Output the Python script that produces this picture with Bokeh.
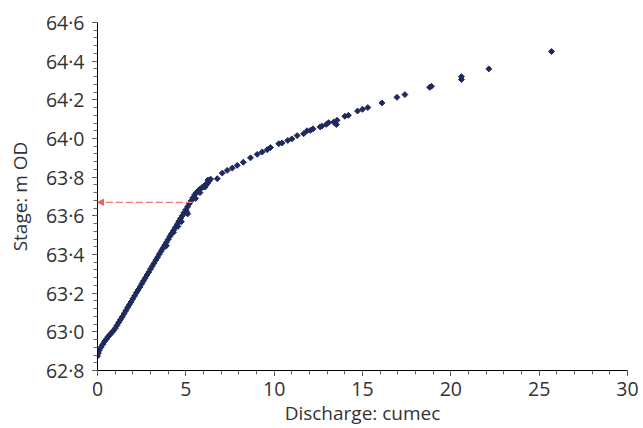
from bokeh.plotting import figure
from bokeh.models import Range1d, FixedTicker, CustomJSTickFormatter, Arrow, NormalHead, ColumnDataSource
from bokeh.embed import file_html
from bokeh.resources import INLINE

# Discharge (cumec) and stage (m OD)
discharge = [
    0.00, 0.05, 0.10, 0.20, 0.30, 0.40, 0.50, 0.60, 0.70, 0.80, 0.90, 1.00, 1.10, 1.20,
    1.30, 1.40, 1.50, 1.60, 1.70, 1.80, 1.90, 2.00, 2.10, 2.20, 2.30, 2.40, 2.50, 2.60,
    2.70, 2.80, 2.90, 3.00, 3.10, 3.20, 3.30, 3.40, 3.50, 3.60, 3.70, 3.80, 3.90, 4.00,
    4.10, 4.20, 4.30, 4.40, 4.50, 4.60, 4.70, 4.80, 4.90, 5.00, 5.10, 5.20, 5.30, 5.40,
    5.50, 5.60, 5.70, 5.80, 5.90, 6.00, 6.10, 6.20, 6.30,
    3.80, 3.90, 4.30, 4.55, 4.75, 5.05, 5.10, 5.55, 5.80, 6.10, 6.25,
    6.02, 6.21, 6.40, 6.78, 7.06, 7.34, 7.63, 7.91, 8.25, 8.66, 9.04, 9.32, 9.60, 9.79,
    10.26, 10.45, 10.77, 11.00, 11.30, 11.67, 11.86, 12.05, 12.20, 12.60, 12.70, 12.95,
    13.08, 13.37, 13.52, 13.56, 14.00, 14.20, 14.72, 15.00, 15.30, 16.10, 16.95, 17.40,
    18.80, 18.90, 20.60, 20.60, 22.15, 25.70,
]
stage = [
    62.875, 62.890, 62.905, 62.920, 62.935, 62.950, 62.962, 62.975, 62.985, 62.995, 63.005, 63.018, 63.033, 63.048,
    63.063, 63.078, 63.094, 63.109, 63.125, 63.140, 63.155, 63.171, 63.186, 63.202, 63.217, 63.232, 63.248, 63.263,
    63.278, 63.294, 63.309, 63.325, 63.340, 63.355, 63.371, 63.386, 63.402, 63.417, 63.432, 63.448, 63.463, 63.478,
    63.494, 63.509, 63.524, 63.540, 63.555, 63.571, 63.586, 63.601, 63.617, 63.632, 63.647, 63.663, 63.678, 63.694,
    63.709, 63.720, 63.730, 63.738, 63.745, 63.752, 63.760, 63.767, 63.778,
    63.440, 63.445, 63.515, 63.545, 63.570, 63.620, 63.610, 63.690, 63.720, 63.750, 63.785,
    63.749, 63.766, 63.790, 63.792, 63.821, 63.835, 63.847, 63.861, 63.877, 63.900, 63.918, 63.930, 63.942, 63.953,
    63.973, 63.977, 63.990, 63.998, 64.015, 64.025, 64.040, 64.042, 64.050, 64.060, 64.064, 64.073,
    64.082, 64.085, 64.072, 64.094, 64.115, 64.120, 64.142, 64.151, 64.160, 64.184, 64.213, 64.227,
    64.265, 64.270, 64.305, 64.320, 64.360, 64.450,
]

# Axis ticks
x_ticks = [0, 5, 10, 15, 20, 25, 30]
y_ticks = [62.8, 63.0, 63.2, 63.4, 63.6, 63.8, 64.0, 64.2, 64.4, 64.6]
x_minor = list(range(0, 31))
y_minor = [round(62.8 + 0.04 * i, 2) for i in range(46)]

# Reading marked by the red arrow
arrow_discharge = 5.4
arrow_stage = 63.67

x_min, x_max = 0, 30
y_min, y_max = 62.8, 64.6

FONT = "Open Sans"
TXT = "#333333"
MARK = "#1f2a5c"

p = figure(width=643, height=428, output_backend="svg", toolbar_location=None,
           x_range=Range1d(x_min, x_max), y_range=Range1d(y_min, y_max),
           min_border_left=97, min_border_right=16, min_border_top=22, min_border_bottom=58)
p.outline_line_color = None
p.grid.visible = False
p.background_fill_color = "white"
p.border_fill_color = "white"

src = ColumnDataSource(dict(x=discharge, y=stage))
p.scatter("x", "y", source=src, marker="square", angle=0.785398, size=4.2, color=MARK)

p.add_layout(Arrow(end=NormalHead(size=6, fill_color="#f06060", line_color="#f06060", line_width=1),
                   x_start=arrow_discharge, y_start=arrow_stage, x_end=x_min, y_end=arrow_stage,
                   line_color="#f07878", line_width=1.3, line_dash="7 3"))

p.xaxis.ticker = FixedTicker(ticks=x_ticks, minor_ticks=x_minor)
p.yaxis.ticker = FixedTicker(ticks=y_ticks, minor_ticks=y_minor)
p.yaxis.formatter = CustomJSTickFormatter(code="return tick.toFixed(1).replace('.', '\u00b7');")
p.xaxis.formatter = CustomJSTickFormatter(code="return tick.toFixed(0);")

p.xaxis.axis_label = "Discharge: cumec"
p.yaxis.axis_label = "Stage: m OD"

for ax in (p.xaxis, p.yaxis):
    ax.axis_line_color = "black"
    ax.major_tick_line_color = "black"
    ax.minor_tick_line_color = "#666666"
    ax.major_tick_out = 5
    ax.major_tick_in = 0
    ax.minor_tick_out = 4
    ax.minor_tick_in = 0
    ax.major_label_text_font = FONT
    ax.major_label_text_font_size = "19.5px"
    ax.major_label_text_color = TXT
    ax.axis_label_text_font = FONT
    ax.axis_label_text_font_size = "19px"
    ax.axis_label_text_color = TXT
    ax.axis_label_text_font_style = "normal"

p.xaxis.major_label_standoff = 6
p.xaxis.axis_label_standoff = 1
p.yaxis.major_label_standoff = 8
p.yaxis.axis_label_standoff = 10

open("out.html", "w").write(file_html(p, INLINE))
